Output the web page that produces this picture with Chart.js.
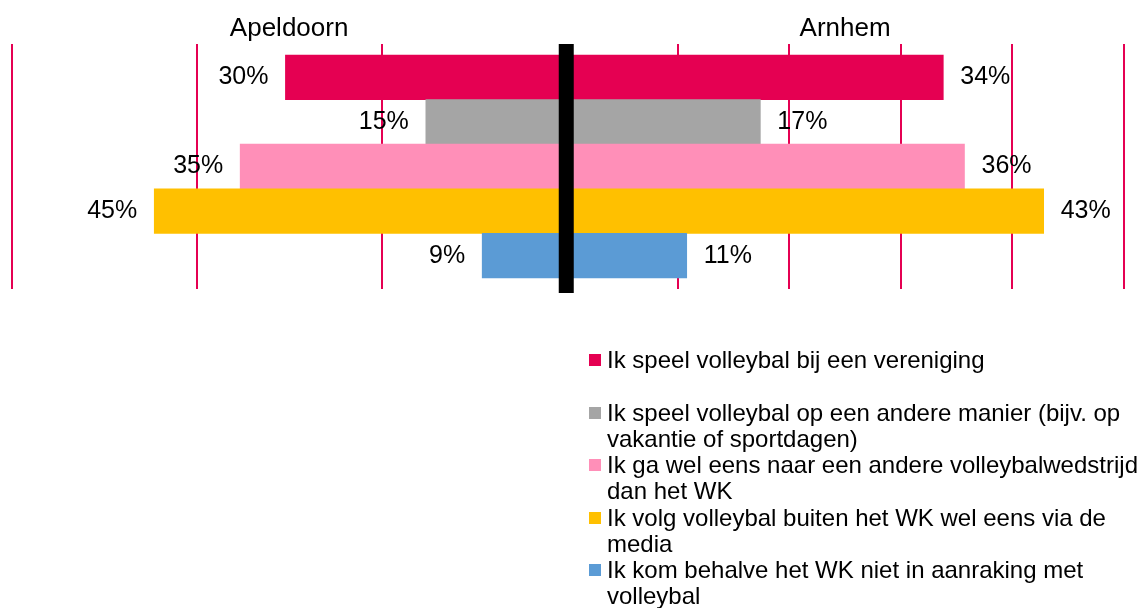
<!DOCTYPE html>
<html>
<head>
<meta charset="utf-8">
<script src="https://cdn.jsdelivr.net/npm/chart.js@4/dist/chart.umd.min.js"></script>
<style>
  body { margin: 0; background: #fff; overflow: hidden; }
  #wrap { position: relative; width: 1140px; height: 608px; overflow: hidden; }
  #legend { position: absolute; left: 589px; top: 347px; font-family: "Liberation Sans", Arial, sans-serif; font-size: 24px; color: #000; }
  .item { display: flex; height: 52.5px; }
  .box { width: 12px; height: 12px; margin-top: 7px; margin-right: 6px; flex: none; }
  .txt { width: 540px; line-height: 26px; }
</style>
</head>
<body>
<div id="wrap">
  <canvas id="chart"></canvas>
  <div id="legend"></div>
</div>
<script>
const categories = [
  'Ik speel volleybal bij een vereniging',
  'Ik speel volleybal op een andere manier (bijv. op vakantie of sportdagen)',
  'Ik ga wel eens naar een andere volleybalwedstrijd dan het WK',
  'Ik volg volleybal buiten het WK wel eens via de media',
  'Ik kom behalve het WK niet in aanraking met volleybal'
]
// percentages, labels show them rounded
const apeldoorn = [30.4, 15.2, 35.3, 44.6, 9.1]
const arnhem = [33.8, 17.4, 35.7, 42.8, 10.8]
const colors = ['#E50052', '#A5A5A5', '#FF8FB8', '#FFC000', '#5B9BD5']

const font = '"Liberation Sans", Arial, sans-serif'
const gridColor = '#E50052'

// value labels + black centre line
const labelPlugin = {
  id: 'labels',
  afterDatasetsDraw(chart) {
    const ctx = chart.ctx
    const area = chart.chartArea
    const x0 = chart.scales.xR.getPixelForValue(0)
    ctx.save()
    ctx.fillStyle = '#000'
    ctx.fillRect(x0 - 7.5, area.top, 15, area.bottom + 4 - area.top)
    ctx.font = '25px ' + font
    ctx.textBaseline = 'middle'
    chart.data.datasets.forEach((ds, di) => {
      chart.getDatasetMeta(di).data.forEach((bar, i) => {
        const left = bar.x < bar.base
        ctx.textAlign = left ? 'right' : 'left'
        ctx.fillText(Math.round(ds.data[i].x) + '%', bar.x + (left ? -17 : 17), bar.y)
      })
    })
    ctx.restore()
  }
}

new Chart(document.getElementById('chart'), {
  type: 'bar',
  data: {
    datasets: [{
      label: 'Apeldoorn',
      data: apeldoorn.map((v, i) => ({x: v, y: i})),
      backgroundColor: colors,
      xAxisID: 'xL',
      grouped: false
    }, {
      label: 'Arnhem',
      data: arnhem.map((v, i) => ({x: v, y: i})),
      backgroundColor: colors,
      xAxisID: 'xR',
      grouped: false
    }]
  },
  options: {
    indexAxis: 'y',
    responsive: true,
    maintainAspectRatio: false,
    animation: false,
    events: [],
    barPercentage: 1,
    categoryPercentage: 1,
    layout: { padding: { top: 12.8, left: 12, right: 16, bottom: 319 } },
    scales: {
      xL: {
        type: 'linear', position: 'top', stack: 'x', stackWeight: 554.5, weight: 1,
        reverse: true, min: 0, max: 60,
        ticks: { display: false, stepSize: 20 },
        grid: { color: gridColor, lineWidth: 2, drawTicks: false },
        border: { display: false },
        title: { display: true, text: 'Apeldoorn', color: '#000', font: { family: font, size: 26 }, padding: 0 }
      },
      xR: {
        type: 'linear', position: 'top', stack: 'x', stackWeight: 558, weight: 0,
        min: 0, max: 50,
        ticks: { display: false, stepSize: 10 },
        grid: { color: gridColor, lineWidth: 2, drawTicks: false },
        border: { display: false },
        title: { display: true, text: 'Arnhem', color: '#000', font: { family: font, size: 26 }, padding: 0 }
      },
      y: {
        type: 'linear', display: false, reverse: true, offset: false,
        min: -0.7466, max: 4.7466,
        ticks: { stepSize: 1, includeBounds: false }
      }
    },
    plugins: {
      legend: { display: false },
      tooltip: { enabled: false }
    }
  },
  plugins: [labelPlugin]
})

const legend = document.getElementById('legend')
categories.forEach((c, i) => {
  const item = document.createElement('div')
  item.className = 'item'
  item.innerHTML = '<div class="box" style="background:' + colors[i] + '"></div><div class="txt"></div>'
  item.querySelector('.txt').textContent = c
  legend.appendChild(item)
})
</script>
</body>
</html>
